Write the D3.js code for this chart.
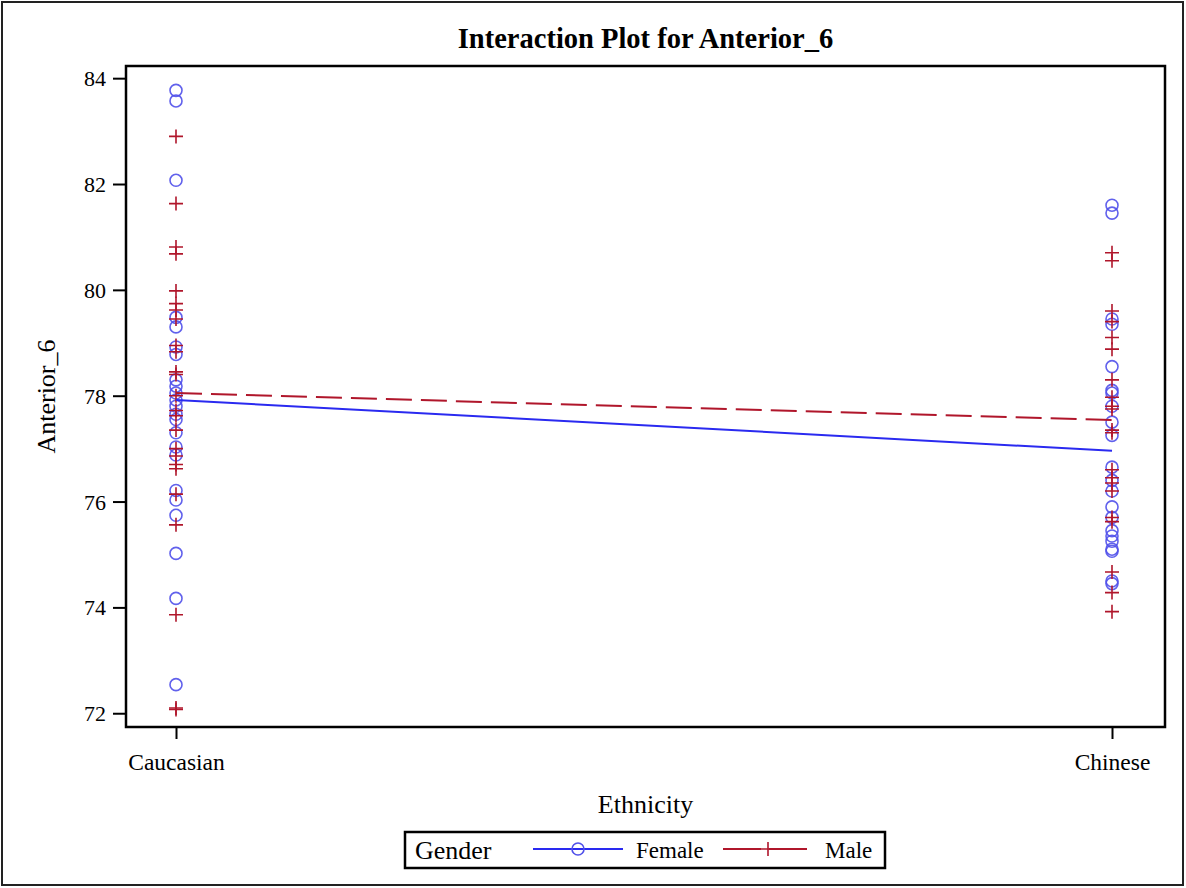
<!DOCTYPE html>
<html><head><meta charset="utf-8">
<script src="https://cdn.jsdelivr.net/npm/d3@7"></script>
<style>body{margin:0;background:#fff}svg{display:block}text{font-family:"Liberation Serif","DejaVu Serif",serif;fill:#000}</style>
</head><body><svg id="c" width="1186" height="888"></svg>
<script>
const categories = ["Caucasian", "Chinese"];
const yTicks = [72, 74, 76, 78, 80, 82, 84];
const femaleCaucasian = [83.77, 83.57, 82.07, 79.48, 79.3, 78.92, 78.78, 78.3, 78.18, 78.05, 77.92, 77.8, 77.65, 77.55, 77.3, 77.03, 76.88, 76.21, 76.03, 75.74, 75.02, 74.17, 72.54];
const maleCaucasian = [82.9, 81.63, 80.81, 80.68, 79.98, 79.74, 79.62, 79.45, 78.95, 78.83, 78.45, 78.4, 78.0, 77.72, 77.62, 77.35, 77.0, 76.86, 76.7, 76.62, 76.14, 75.56, 73.86, 72.07, 72.1];
const femaleChinese = [81.6, 81.45, 79.45, 79.35, 78.55, 78.1, 78.05, 77.8, 77.5, 77.25, 76.65, 76.4, 76.2, 75.9, 75.7, 75.45, 75.35, 75.25, 75.1, 75.06, 74.5, 74.45];
const maleChinese = [80.7, 80.55, 79.6, 79.4, 79.1, 78.88, 78.3, 77.97, 77.8, 77.75, 77.35, 77.3, 76.6, 76.45, 76.35, 76.2, 75.7, 75.62, 74.67, 74.28, 73.92];
const femaleMeans = [77.92, 76.96];
const maleMeans = [78.05, 77.54];

const svg = d3.select("#c");
const L = 126, R = 1165, T = 66, B = 727;
const x = d3.scalePoint().domain(categories).range([176, 1112]);
const y = d3.scaleLinear().domain([71.74, 84.23]).range([B, T]);
const blue = "#2a2af0", blueM = "#5050ea", red = "#b0162b";

svg.append("rect").attr("x", 2).attr("y", 2).attr("width", 1181).attr("height", 883)
  .attr("fill", "none").attr("stroke", "#222").attr("stroke-width", 2);

const g = svg.append("g");
const yAx = g.append("g").attr("transform", `translate(${L},0)`)
  .call(d3.axisLeft(y).tickValues(yTicks).tickSize(13).tickPadding(7).tickFormat(d3.format("d")));
yAx.select(".domain").remove();
yAx.selectAll("line").attr("stroke", "#000").attr("stroke-width", 2);
yAx.selectAll("text").style("font-size", "22px").attr("dy", "0.34em");

const xAx = g.append("g").attr("transform", `translate(0,${B})`)
  .call(d3.axisBottom(x).tickSize(12).tickPadding(14));
xAx.select(".domain").remove();
xAx.selectAll("line").attr("stroke", "#000").attr("stroke-width", 2);
xAx.selectAll("text").style("font-size", "23.5px");

g.append("rect").attr("x", L).attr("y", T).attr("width", R - L).attr("height", B - T)
  .attr("fill", "none").attr("stroke", "#000").attr("stroke-width", 2.5);

function circles(vals, cat) {
  g.append("g").selectAll("circle").data(vals).join("circle")
    .attr("cx", x(cat)).attr("cy", d => y(d)).attr("r", 6)
    .attr("fill", "none").attr("stroke", blueM).attr("stroke-width", 1.6).attr("opacity", 0.9);
}
function crosses(vals, cat) {
  g.append("g").selectAll("path").data(vals).join("path")
    .attr("d", d => `M${x(cat) - 7},${y(d)}h14M${x(cat)},${y(d) - 7}v14`)
    .attr("stroke", red).attr("stroke-width", 1.6).attr("fill", "none");
}
circles(femaleCaucasian, "Caucasian");
circles(femaleChinese, "Chinese");
crosses(maleCaucasian, "Caucasian");
crosses(maleChinese, "Chinese");

const line = d3.line().x((d, i) => x(categories[i])).y(d => y(d));
g.append("path").datum(maleMeans).attr("d", line).attr("fill", "none")
  .attr("stroke", red).attr("stroke-width", 2).attr("stroke-dasharray", "26,9");
g.append("path").datum(femaleMeans).attr("d", line).attr("fill", "none")
  .attr("stroke", blue).attr("stroke-width", 2);

svg.append("text").attr("x", (L + R) / 2).attr("y", 48).attr("text-anchor", "middle")
  .style("font-size", "28.5px").style("font-weight", "bold").text("Interaction Plot for Anterior_6");
svg.append("text").attr("transform", `translate(55,${(T + B) / 2}) rotate(-90)`).attr("text-anchor", "middle")
  .style("font-size", "26px").text("Anterior_6");
svg.append("text").attr("x", (L + R) / 2).attr("y", 813).attr("text-anchor", "middle")
  .style("font-size", "26px").text("Ethnicity");

const lg = svg.append("g");
lg.append("rect").attr("x", 405).attr("y", 832).attr("width", 480).attr("height", 36)
  .attr("fill", "#fff").attr("stroke", "#000").attr("stroke-width", 2.5);
lg.append("text").attr("x", 415).attr("y", 859).style("font-size", "26px").text("Gender");
lg.append("line").attr("x1", 533).attr("x2", 623).attr("y1", 849).attr("y2", 849).attr("stroke", blue).attr("stroke-width", 2);
lg.append("circle").attr("cx", 578).attr("cy", 849).attr("r", 6).attr("fill", "none").attr("stroke", blueM).attr("stroke-width", 1.6);
lg.append("text").attr("x", 636).attr("y", 858).style("font-size", "23px").text("Female");
lg.append("line").attr("x1", 723).attr("x2", 812).attr("y1", 849).attr("y2", 849).attr("stroke", red).attr("stroke-width", 2).attr("stroke-dasharray", "38,8");
lg.append("path").attr("d", "M761,849h14M768,842v14").attr("stroke", red).attr("stroke-width", 1.6);
lg.append("text").attr("x", 825).attr("y", 858).style("font-size", "23px").text("Male");
</script></body></html>
